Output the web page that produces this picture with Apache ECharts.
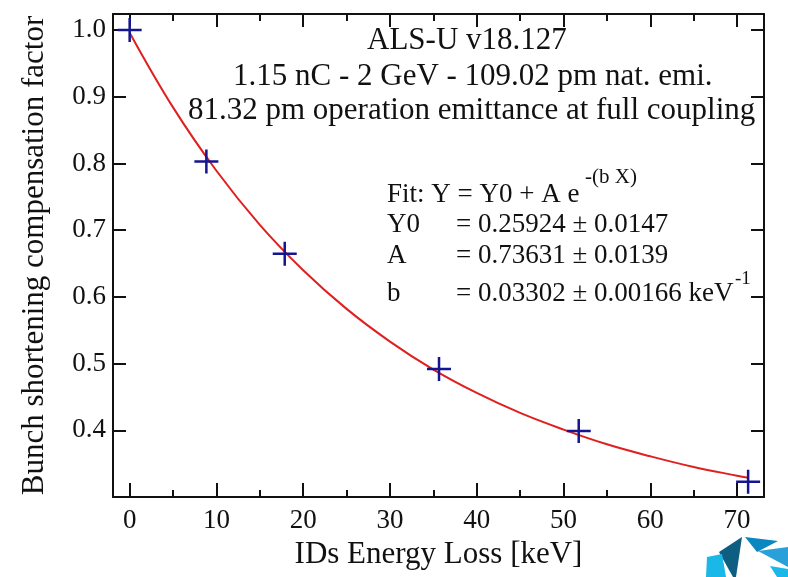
<!DOCTYPE html>
<html>
<head>
<meta charset="utf-8">
<script src="https://cdn.jsdelivr.net/npm/echarts@6/dist/echarts.min.js"></script>
<style>
html,body{margin:0;padding:0;background:#fff;}
#chart{width:788px;height:577px;}
</style>
</head>
<body>
<div id="chart"></div>
<script>
// ---- data ----
var energyLoss = [0, 8.84, 17.87, 35.65, 51.75, 71.27];
var compFactor = [1.0, 0.803, 0.6645, 0.4917, 0.399, 0.3228];

var fitX = [0, 5, 10, 15, 20, 25, 30, 35, 40, 45, 50, 55, 60, 65, 70, 71.3];
var fitY = [0.996, 0.884, 0.789, 0.708, 0.640, 0.582, 0.533, 0.491, 0.456, 0.426, 0.401, 0.379, 0.361, 0.345, 0.332, 0.329];

var xMajorTicks = [0, 10, 20, 30, 40, 50, 60, 70];
var xMinorTicks = [5, 15, 25, 35, 45, 55, 65];
var yMajorTicks = [0.4, 0.5, 0.6, 0.7, 0.8, 0.9, 1.0];

var titleLines = ['ALS-U v18.127', '1.15 nC - 2 GeV - 109.02 pm nat. emi.', '81.32 pm operation emittance at full coupling'];
var fitHeader = 'Fit: Y = Y0 + A e';
var fitHeaderSup = '-(b X)';
var fitNames = ['Y0', 'A', 'b'];
var fitValues = ['= 0.25924 \u00b1 0.0147', '= 0.73631 \u00b1 0.0139', '= 0.03302 \u00b1 0.00166 keV'];
var unitSup = '-1';

var xName = 'IDs Energy Loss [keV]';
var yName = 'Bunch shortening compensation factor';

// ---- chart ----
var FONT = 'Liberation Serif';
var INK = '#111';
var xMin = -1.92, xMax = 73.1, yMin = 0.3, yMax = 1.024;

function xAx(pos, ticks, len, showLine, labels) {
  return {
    type: 'value', position: pos, min: xMin, max: xMax,
    name: labels ? xName : '', nameLocation: 'middle', nameGap: 40,
    nameTextStyle: {fontFamily: FONT, fontSize: 31, color: INK},
    axisLine: {show: showLine, onZero: false, lineStyle: {color: INK, width: 2}},
    axisTick: {show: true, inside: true, length: len, customValues: ticks, lineStyle: {color: INK, width: 2}},
    axisLabel: labels ? {show: true, customValues: ticks, margin: 10, fontFamily: FONT, fontSize: 27, color: INK} : {show: false},
    splitLine: {show: false}
  };
}
function yAx(pos, labels) {
  return {
    type: 'value', position: pos, min: yMin, max: yMax,
    name: labels ? yName : '', nameLocation: 'middle', nameGap: 63, nameRotate: 90,
    nameTextStyle: {fontFamily: FONT, fontSize: 31, color: INK},
    axisLine: {show: true, onZero: false, lineStyle: {color: INK, width: 2}},
    axisTick: {show: true, inside: true, length: 13, customValues: yMajorTicks, lineStyle: {color: INK, width: 2}},
    axisLabel: labels ? {show: true, customValues: yMajorTicks, margin: 7, fontFamily: FONT, fontSize: 27, color: INK,
      formatter: function (v) { return (+v).toFixed(1); }} : {show: false},
    splitLine: {show: false}
  };
}

var graphics = [];
var titleLeft = [367, 233, 188], titleY = [41, 77, 111];
titleLines.forEach(function (t, i) {
  graphics.push({type: 'text', x: titleLeft[i], y: titleY[i],
    style: {text: t, font: '31px "' + FONT + '"', fill: INK, textVerticalAlign: 'middle'}});
});
graphics.push({type: 'text', x: 387, y: 194.5, style: {text: fitHeader, font: '27px "' + FONT + '"', fill: INK, textVerticalAlign: 'middle'}});
graphics.push({type: 'text', x: 585, y: 177, style: {text: fitHeaderSup, font: '21px "' + FONT + '"', fill: INK, textVerticalAlign: 'middle'}});
var rowY = [224.5, 255.5, 294];
fitNames.forEach(function (n, i) {
  graphics.push({type: 'text', x: 387, y: rowY[i], style: {text: n, font: '27px "' + FONT + '"', fill: INK, textVerticalAlign: 'middle'}});
  graphics.push({type: 'text', x: 456, y: rowY[i], style: {text: fitValues[i], font: '27px "' + FONT + '"', fill: INK, textVerticalAlign: 'middle'}});
});
graphics.push({type: 'text', x: 735, y: 279, style: {text: unitSup, font: '19px "' + FONT + '"', fill: INK, textVerticalAlign: 'middle'}});
// corner logo (decoration)
var logoBlades = [
  {pts: [[742,537],[719,552],[733,577],[736,577]], c: '#0d5e80'},
  {pts: [[745,537],[778,541],[757,552]], c: '#0a86c0'},
  {pts: [[758,551],[788,547],[788,567]], c: '#2aa0d8'},
  {pts: [[707,557],[722,554],[726,577],[706,577]], c: '#1ab8e8'},
  {pts: [[770,566],[788,569],[788,577],[777,577]], c: '#1ab8e8'}
];
logoBlades.forEach(function (b) {
  graphics.push({type: 'polygon', shape: {points: b.pts}, style: {fill: b.c}});
});

var chart = echarts.init(document.getElementById('chart'), null, {renderer: 'canvas'});
chart.setOption({
  animation: false,
  backgroundColor: '#fff',
  grid: {left: 113, right: 24, top: 14, bottom: 80, containLabel: false},
  xAxis: [
    xAx('bottom', xMajorTicks, 14, true, true),
    xAx('bottom', xMinorTicks, 7, false, false),
    xAx('top', xMajorTicks, 13, true, false),
    xAx('top', xMinorTicks, 7, false, false)
  ],
  yAxis: [yAx('left', true), yAx('right', false)],
  series: [
    {
      type: 'line', xAxisIndex: 0, yAxisIndex: 0,
      data: fitX.map(function (x, i) { return [x, fitY[i]]; }),
      smooth: 0.4, showSymbol: false, symbol: 'none',
      lineStyle: {color: '#e01f1f', width: 2}, z: 2
    },
    {
      type: 'scatter', xAxisIndex: 0, yAxisIndex: 0,
      data: energyLoss.map(function (x, i) { return [x, compFactor[i]]; }),
      symbol: 'path://M10,0 L10,20 M0,10 L20,10', symbolSize: 24,
      itemStyle: {color: 'rgba(0,0,0,0)', borderColor: '#15158f', borderWidth: 2.5, opacity: 1},
      clip: false, z: 3
    }
  ],
  graphic: graphics
});
</script>
</body>
</html>
